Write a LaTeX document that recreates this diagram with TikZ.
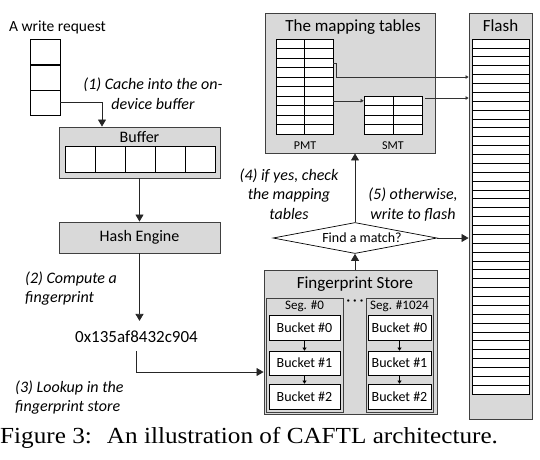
\documentclass[tikz,border=0pt]{standalone}
\usepackage{graphicx}
\usepackage{fontspec}
\setmainfont{Carlito}
\newfontfamily\capfont{Liberation Serif}
\usetikzlibrary{arrows.meta,shapes.geometric}
\definecolor{boxgray}{HTML}{D9D9D9}
\definecolor{edgegray}{HTML}{404040}
\begin{document}
\begin{tikzpicture}[x=1pt,y=-1pt,
  gbox/.style={draw=edgegray, fill=boxgray, line width=0.9pt, inner sep=0pt},
  wcell/.style={draw=black, fill=white, line width=0.7pt, inner sep=0pt},
  lbl/.style={font=\fontsize{16}{19.5}\selectfont\itshape, align=center, inner sep=0pt},
  txt/.style={font=\fontsize{#1}{#1}\selectfont, inner sep=0pt},
  txt/.default=15.5,
  arr/.style={-{Triangle[length=7pt,width=8pt]}, line width=0.8pt, draw=black!85},
  sarr/.style={-{Triangle[length=3pt,width=3.5pt]}, line width=0.5pt, draw=black!80},
  tarr/.style={-{Triangle[length=3pt,width=4pt]}, line width=0.5pt, draw=black},
]
\useasboundingbox (0,0) rectangle (540,459);

% write request
\node[txt] (wrt) at (57.5,27) {A write request};
\node[wcell, minimum width=30pt, minimum height=25.5pt] (wr1) at (45,52) {};
\node[wcell, minimum width=30pt, minimum height=25pt] (wr2) at (45,77.5) {};
\node[wcell, minimum width=30pt, minimum height=25pt] (wr3) at (45,102.5) {};

% buffer
\node[gbox, minimum width=161pt, minimum height=51pt] (buf) at (139.5,152.5) {};
\node[txt=16] (buft) at (139.5,137) {Buffer};
\foreach \i/\x in {1/80,2/110,3/140,4/170,5/200}
  \node[wcell, minimum width=30pt, minimum height=26pt] (bc\i) at (\x,159) {};

\draw[arr] (wr3.east) -| ([xshift=-37.5pt]buf.north);
\node[lbl] (l1) at (153,93.5) {(1) Cache into the on-\\device buffer};

% hash engine
\node[gbox, minimum width=161pt, minimum height=31pt] (hash) at (139.5,237.5) {};
\node[txt=16] (hasht) at (139.5,237.5) {Hash Engine};
\draw[arr] (buf.south) -- (hash.north);

% fingerprint value
\node[txt=17] (fp) at (136.5,337) {0x135af8432c904};
\draw[arr] (hash.south) -- ([yshift=10pt]hash.south |- fp.north);
\node[lbl, align=left, anchor=west] (l2) at (25,288.5) {(2) Compute a\\fingerprint};
\node[lbl, align=left, anchor=west] (l3) at (15,397.5) {(3) Lookup in the\\fingerprint store};

% mapping tables
\node[gbox, minimum width=170pt, minimum height=140pt] (mt) at (350,83) {};
\node[txt=17] (mtt) at (353,27) {The mapping tables};
\node[wcell, minimum width=57pt, minimum height=95pt] (pmt) at (304.5,86.5) {};
\foreach \i in {1,...,9}
  \draw[line width=0.6pt] (276,39+9.5*\i) -- (333,39+9.5*\i);
\draw[line width=0.6pt] (304,39) -- (304,134);
\node[txt=12] (pmtl) at (305,145.5) {PMT};
\node[wcell, minimum width=58pt, minimum height=38pt] (smt) at (393,115) {};
\foreach \i in {1,...,3}
  \draw[line width=0.6pt] (364,96+9.5*\i) -- (422,96+9.5*\i);
\draw[line width=0.6pt] (393,96) -- (393,134);
\node[txt=12] (smtl) at (393,145.5) {SMT};

% flash
\node[gbox, minimum width=63pt, minimum height=406pt] (flash) at (500.5,216) {};
\node[txt=17] (flt) at (500.5,25.5) {Flash};
\node[wcell, minimum width=57pt, minimum height=355pt] (fin) at (500.5,216.5) {};
\foreach \i in {1,...,39}
  \draw[line width=0.6pt] (472,39+8.875*\i) -- (529,39+8.875*\i);

% mapping arrows
\draw[sarr] ([yshift=23.75pt]pmt.east) -- ++(3,0) |- ([yshift=139pt]flash.west);
\draw[sarr] ([yshift=-14.25pt]pmt.east) -- ([yshift=14.25pt]smt.west);
\draw[sarr] ([xshift=3pt,yshift=17pt]smt.east) -- ([yshift=118pt]flash.west);

% decision
\node[draw=black, line width=0.7pt, fill=white, shape=diamond, aspect=5.3,
      minimum width=164pt, minimum height=31pt, inner sep=0pt] (dm) at (355,238) {};
\node[txt=14] (dmt) at (362,238) {Find a match?};
\draw[arr] (dm.north) -- (dm.north |- mt.south);
\draw[arr] (dm.east) -- (dm.east -| flash.west);
\node[lbl] (l4) at (289,194) {(4) if yes, check\\the mapping\\tables};
\node[lbl] (l5) at (413,204.5) {(5) otherwise,\\write to flash};

% fingerprint store
\node[gbox, minimum width=173pt, minimum height=144pt] (fs) at (350.5,342) {};
\node[txt=17] (fst) at (355,284) {Fingerprint Store};
\draw[arr] (dm.south |- fs.north) -- (dm.south);
\draw[arr] ([yshift=-8pt]fp.south) |- ([yshift=-30pt]fs.west);
\node[txt=16] (dots) at (355,303) {·\hspace{2.5pt}·\hspace{2.5pt}·};

\node[gbox, minimum width=77pt, minimum height=114pt] (s0) at (304.5,355) {};
\node[txt=13] (s0t) at (304.5,306) {Seg. \#0};
\node[gbox, minimum width=67pt, minimum height=114pt] (s1) at (399.5,355) {};
\node[txt=13] (s1t) at (399.5,306) {Seg. \#1024};

\foreach \s/\x/\w in {a/304.5/71, b/399.5/63}{
  \node[wcell, minimum width=\w pt, minimum height=25pt] (\s0) at (\x,327.5) {};
  \node[wcell, minimum width=\w pt, minimum height=24pt] (\s1) at (\x,363) {};
  \node[wcell, minimum width=\w pt, minimum height=25pt] (\s2) at (\x,396.5) {};
  \node[txt=14] at (\s0) {Bucket \#0};
  \node[txt=14] at (\s1) {Bucket \#1};
  \node[txt=14] at (\s2) {Bucket \#2};
  \draw[tarr] (\s0.south) -- (\s1.north);
  \draw[tarr] (\s1.south) -- (\s2.north);
}

% caption
\node[anchor=west, inner sep=0pt, font=\capfont\fontsize{23}{26}\selectfont] (cap) at (0,438)
  {\scalebox{1.095}[1]{Figure 3:\hspace{0.6em}An illustration of CAFTL architecture.}};
\end{tikzpicture}
\end{document}
